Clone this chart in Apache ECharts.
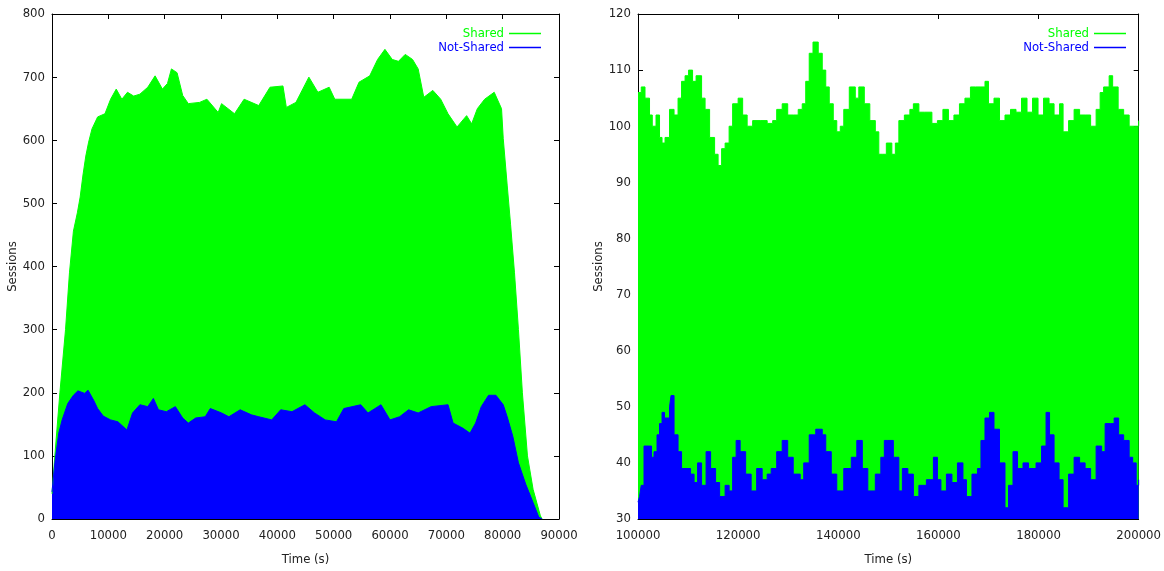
<!DOCTYPE html>
<html><head><meta charset="utf-8">
<script src="https://cdn.jsdelivr.net/npm/echarts@6/dist/echarts.min.js"></script>
<style>html,body{margin:0;padding:0;background:#fff;overflow:hidden;width:1164px;height:571px}#c{width:1164px;height:571px;display:block}</style>
</head><body><div id="c"></div>
<script>
// Left panel (0-90000 s)
const leftSharedTimes = [0,500,1400,2400,3100,3800,4500,5000,5500,6000,6500,7100,8100,9400,10400,11400,12400,13400,14500,15600,17000,18300,19600,20500,21200,22200,23200,24200,26200,27500,29500,30100,32400,34100,36700,38700,41000,41600,43300,45600,47200,49200,50200,53200,54500,56400,57800,59100,60400,61500,62700,64000,65000,66000,67600,69000,70300,71900,73600,74500,75500,76800,78500,79800,80100,80800,81400,82100,82800,83500,84400,85400,86700,87000];
const leftSharedValues = [40,100,200,300,390,456,485,510,545,575,597,618,637,642,665,681,665,676,670,673,684,702,681,690,713,707,671,658,660,665,644,658,642,665,655,684,686,652,660,700,676,684,665,665,692,702,728,744,728,725,736,728,713,668,679,665,642,621,639,626,650,665,676,650,603,529,467,390,300,200,100,47,5,0];
const leftNotSharedTimes = [0,500,1200,1800,2800,3800,4600,5800,6400,7400,8100,9100,10400,11700,13300,14300,15600,17000,18000,18900,20300,21900,23200,24200,25500,27200,28100,30100,31400,33400,35400,36700,39000,40600,42600,44900,46600,48500,50500,51800,54800,56100,58400,60000,61700,63300,65000,67300,70300,71200,72900,74200,75200,76200,77500,78800,80100,80800,81800,82800,84100,85400,86400,87000];
const leftNotSharedValues = [43,89,136,157,183,196,203,199,204,188,175,163,157,154,141,168,181,178,191,173,170,178,160,152,160,162,175,168,162,173,165,162,157,173,170,181,168,157,154,175,181,168,181,157,162,173,168,178,181,152,144,136,152,178,196,196,181,162,131,89,55,26,3,0];

// Right panel (100000-200000 s)
const rightSharedTimes = [100000,100650,101400,102300,102850,103600,104300,104800,105400,106300,107200,108000,108700,109400,110100,110900,111600,112700,113400,114300,115300,116000,116700,117400,118200,118900,120000,120900,121800,122900,124400,125800,126900,127700,128800,129900,131000,132000,132800,133500,134200,134950,136000,136800,137500,138200,139000,139700,140400,141100,142200,143400,144100,145200,146300,147400,148100,148800,149600,150700,151400,152100,153200,154300,155000,156100,157200,158700,159800,160900,162000,163100,164200,165300,166400,167400,168500,169300,170000,171100,172200,173300,174400,175500,176600,177700,178800,179900,181000,182100,183100,184200,184900,186000,187100,188200,189300,190400,191500,192300,193000,194100,194800,195900,197000,198100,199200,200000];
const rightSharedValues = [106,107,105,102,100,102,98,97,98,103,102,105,108,109,110,108,109,105,103,98,95,93,96,97,100,104,105,102,100,101,101,100.5,101,103,104,102,102,103,104,108,113,115,113,110,107,104,101,99,100,103,107,105,107,104,101,99,95,95,97,95,97,101,102,103,104,102.5,102.5,100.5,101,103,101,102,104,105,107,107,107,108,104,105,101,102,103,102.5,105,102.5,105,102,105,104,102,104,99,101,103,102,102,100,103,106,107,109,107,103,102,100,100,101];
const rightNotSharedTimes = [100000,100300,100650,101200,102300,102700,103200,103800,104300,104800,105300,105800,106300,106600,107200,108000,108700,109800,110500,111200,111900,112700,113600,114500,115500,116300,117400,118200,118900,119600,120400,121500,122600,123700,124800,125800,126600,127700,128800,129900,131000,132400,133100,134200,135500,136800,137500,138600,139700,141100,142600,143700,144800,145900,147400,148500,149200,149900,151000,152100,152800,153900,155000,156100,157600,159000,159800,160500,161600,162700,163800,164900,165600,166700,167800,168500,169300,170200,171100,172200,173300,174000,174900,175800,176900,178000,179500,180600,181500,182200,183100,184100,184900,186000,187100,188200,189300,190400,191500,192600,193300,194400,195100,196000,197000,198100,198800,199500,200000];
const rightNotSharedValues = [33,34,36,43,43,41,42,45,47,49,48,48,50,52,45,42,39,39,38,36.5,40,36,42,39,36.5,34,36,35,41,44,42,38,35,39,37,38,39,42,44,41,38,37,40,45,46,45,42,38,35,39,41,44,39,35,38,41,44,44,41,35,39,38,34,36,37,41,37,35,38,36.5,40,37,34,38,39,44,48,49,46,40,32,36,42,39,40,39,40,43,49,45,40,37,32,38,41,40,39,37,43,42,47,47,48,45,44,41,40,36,37];

const leftXTicks = {min:0, max:90000, interval:10000};
const leftYTicks = {min:0, max:800, interval:100};
const rightXTicks = {min:100000, max:200000, interval:20000};
const rightYTicks = {min:30, max:120, interval:10};

const GREEN = '#00ff00', BLUE = '#0000ff';
const FONT = '"Liberation Sans Narrow", "DejaVu Sans Condensed", "Liberation Sans", sans-serif';
const zip = (t, v) => t.map((x, i) => [x, v[i]]);
const plain = v => String(v);

function mainX(grid, r){
  return {type:'value', gridIndex:grid, min:r.min, max:r.max, interval:r.interval,
    name:'Time (s)', nameLocation:'middle', nameGap:34,
    nameTextStyle:{color:'#222', fontFamily:FONT, fontSize:13},
    axisLine:{show:true, onZero:false, lineStyle:{color:'#000', width:1}},
    axisTick:{show:true, inside:true, length:5, lineStyle:{color:'#000'}},
    axisLabel:{color:'#222', fontFamily:FONT, fontSize:13, margin:10, formatter:plain},
    splitLine:{show:false}};
}
function topX(grid, r){
  return {type:'value', gridIndex:grid, position:'top', min:r.min, max:r.max, interval:r.interval,
    axisLine:{show:true, onZero:false, lineStyle:{color:'#000', width:1}},
    axisTick:{show:true, inside:true, length:5, lineStyle:{color:'#000'}},
    axisLabel:{show:false}, splitLine:{show:false}};
}
function mainY(grid, r, gap){
  return {type:'value', gridIndex:grid, min:r.min, max:r.max, interval:r.interval,
    name:'Sessions', nameLocation:'middle', nameGap:gap,
    nameTextStyle:{color:'#222', fontFamily:FONT, fontSize:13},
    axisLine:{show:true, onZero:false, lineStyle:{color:'#000', width:1}},
    axisTick:{show:true, inside:true, length:5, lineStyle:{color:'#000'}},
    axisLabel:{color:'#222', fontFamily:FONT, fontSize:13, margin:7, formatter:plain},
    splitLine:{show:false}};
}
function rightY(grid, r){
  return {type:'value', gridIndex:grid, position:'right', min:r.min, max:r.max, interval:r.interval,
    axisLine:{show:true, onZero:false, lineStyle:{color:'#000', width:1}},
    axisTick:{show:true, inside:true, length:5, lineStyle:{color:'#000'}},
    axisLabel:{show:false}, splitLine:{show:false}};
}
function area(name, color, xi, yi, data, step){
  return {name, type:'line', xAxisIndex:xi, yAxisIndex:yi, data, step:step||false,
    symbol:'none', showSymbol:false, animation:false, silent:true,
    lineStyle:{color, width:1}, itemStyle:{color}, areaStyle:{color, opacity:1}};
}
function legend(right){
  return {orient:'vertical', right, top:22, align:'right', itemGap:1,
    icon:'rect', itemWidth:32, itemHeight:1.5,
    textStyle:{fontFamily:FONT, fontSize:13},
    data:[{name:'Shared', textStyle:{color:GREEN}}, {name:'Not-Shared', textStyle:{color:BLUE}}]};
}

const chart = echarts.init(document.getElementById('c'), null, {renderer:'canvas', width:1164, height:571});
chart.setOption({
  backgroundColor:'#fff', animation:false,
  grid:[
    {left:52, top:14, width:507, height:509},
    {left:638, top:14, width:508, height:509}
  ],
  legend:[legend(618), legend(33)],
  xAxis:[mainX(0, leftXTicks), topX(0, leftXTicks), mainX(1, rightXTicks), topX(1, rightXTicks)],
  yAxis:[mainY(0, leftYTicks, 32), rightY(0, leftYTicks), mainY(1, rightYTicks, 32), rightY(1, rightYTicks)],
  series:[
    area('Shared', GREEN, 0, 0, zip(leftSharedTimes, leftSharedValues)),
    area('Not-Shared', BLUE, 0, 0, zip(leftNotSharedTimes, leftNotSharedValues)),
    area('Shared', GREEN, 2, 2, zip(rightSharedTimes, rightSharedValues), 'end'),
    area('Not-Shared', BLUE, 2, 2, zip(rightNotSharedTimes, rightNotSharedValues), 'end')
  ]
});
</script></body></html>
